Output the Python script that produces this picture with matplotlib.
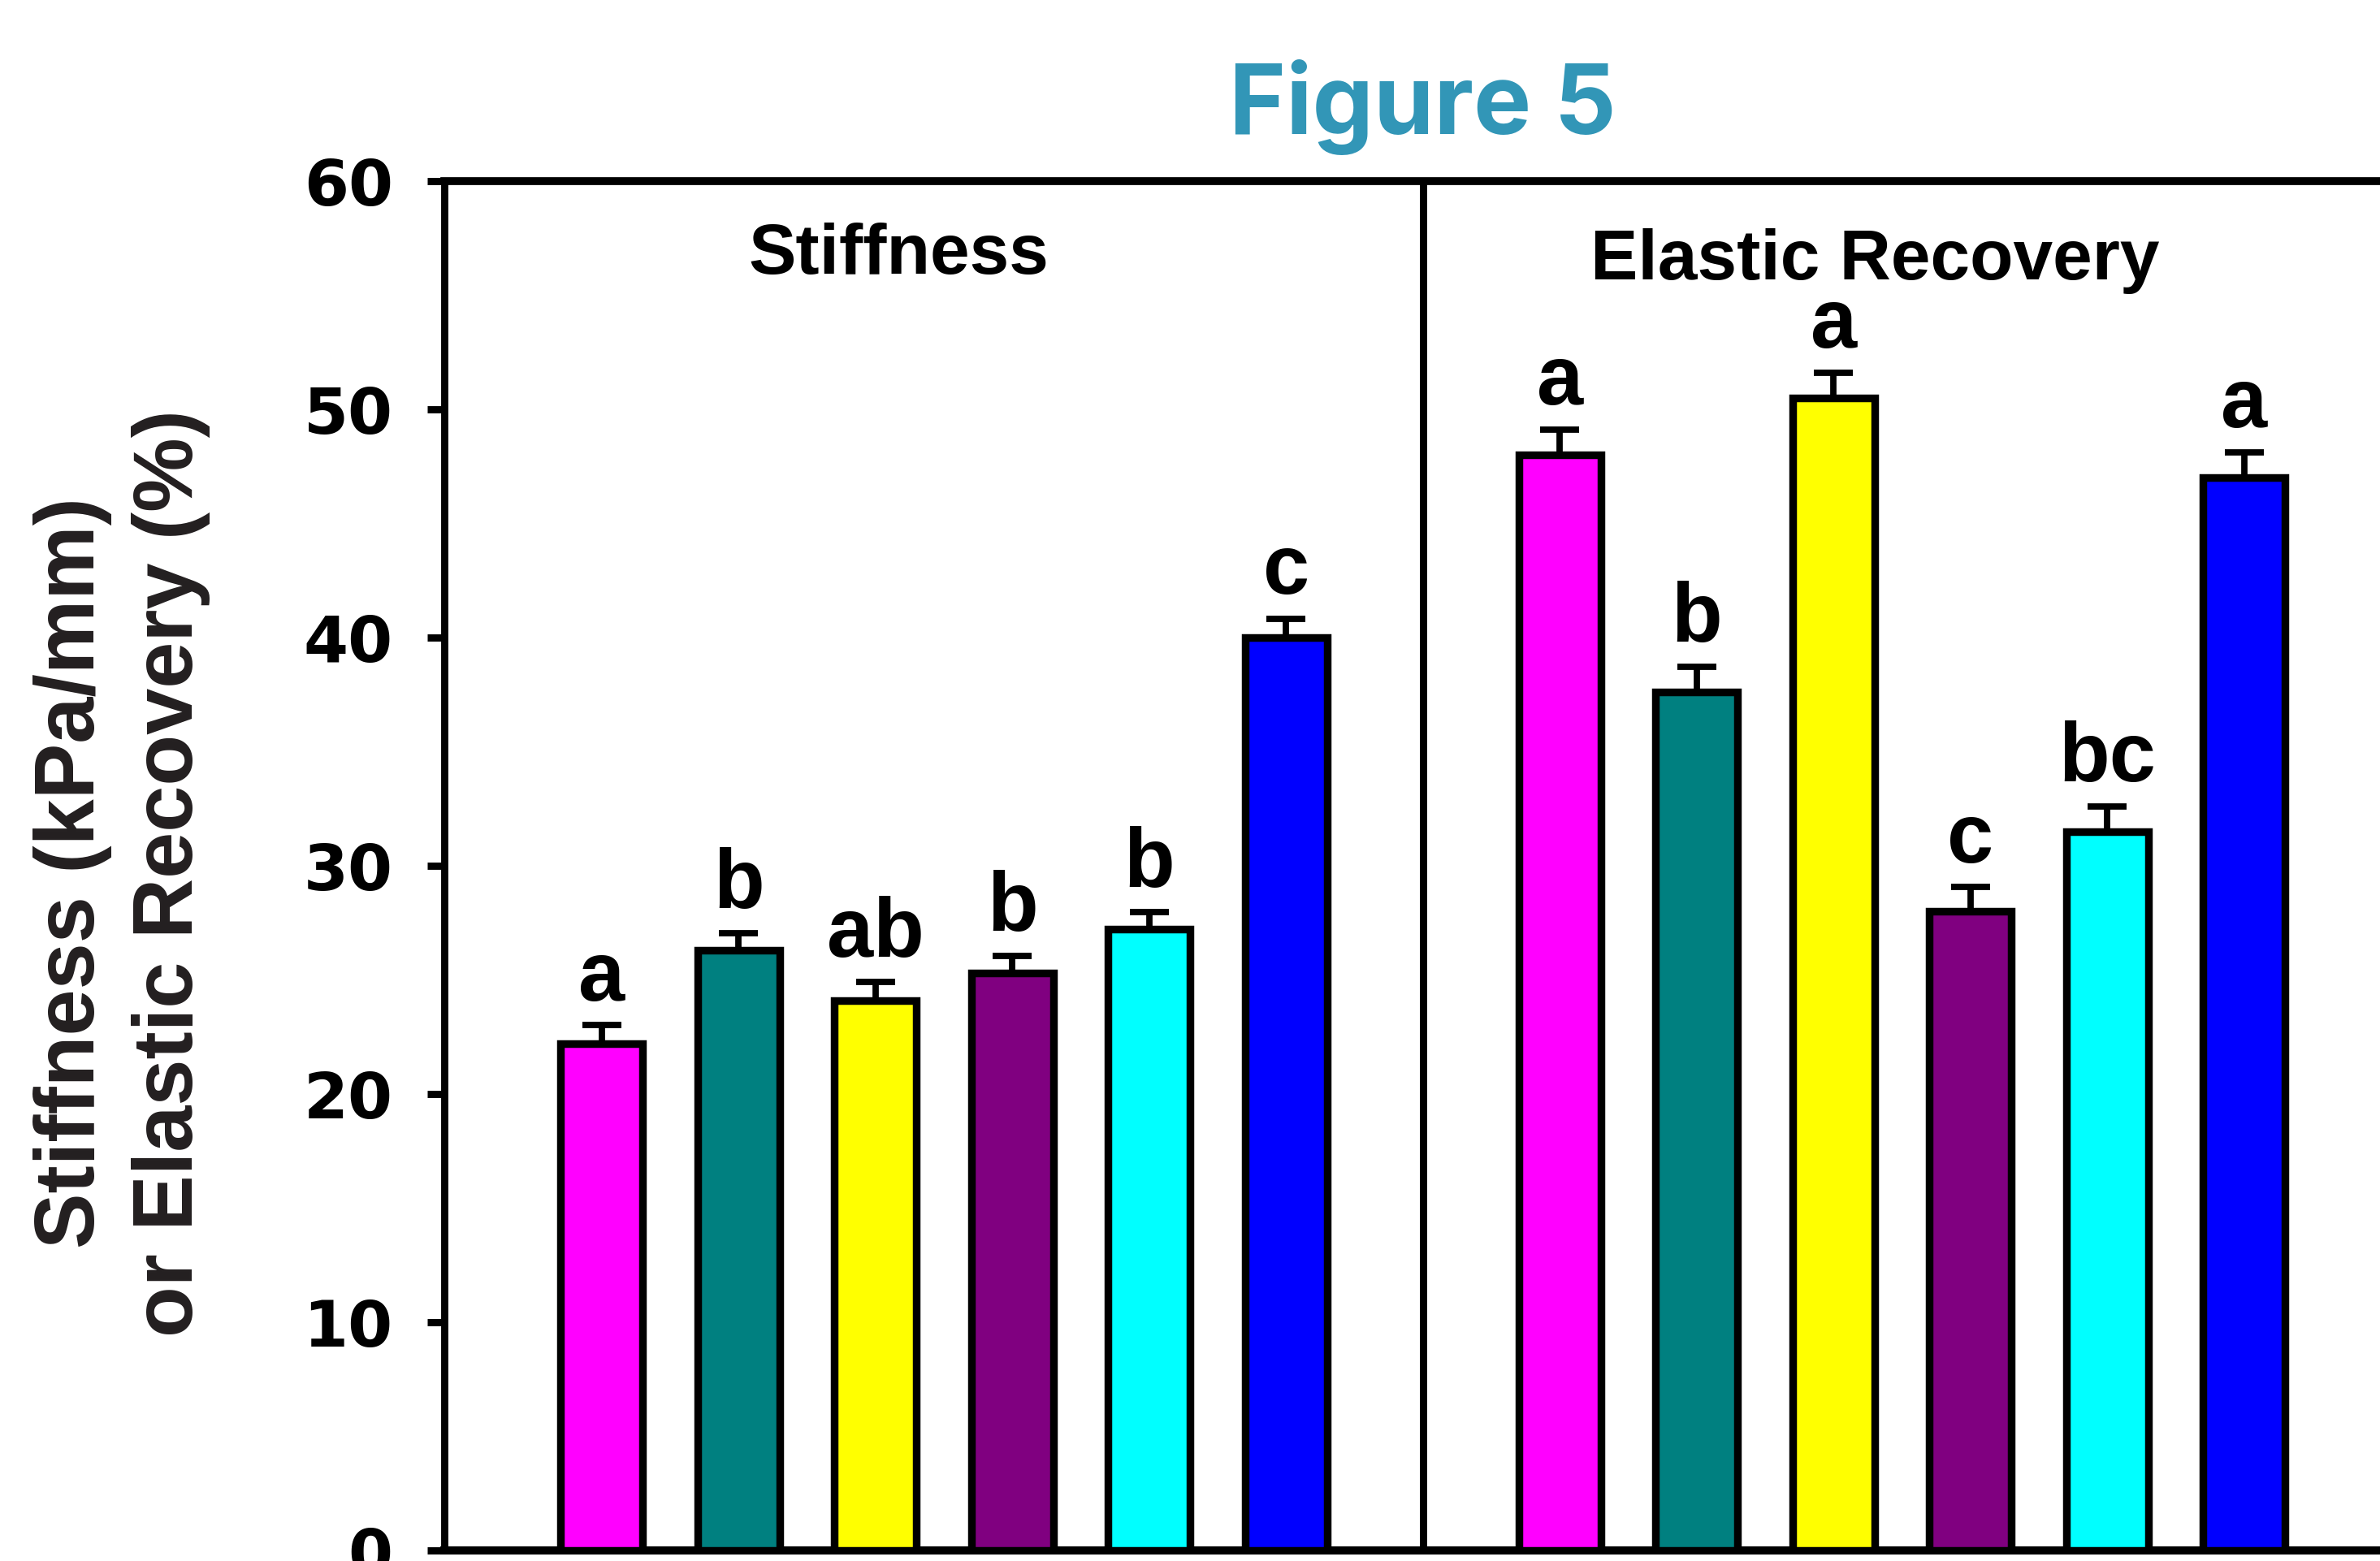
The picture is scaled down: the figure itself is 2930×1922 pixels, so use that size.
import matplotlib
matplotlib.use('Agg')
import matplotlib.pyplot as plt
import numpy as np

# ---- data ----
panels = ['Stiffness', 'Elastic Recovery']
bar_colors = ['#FF00FF', '#008080', '#FFFF00', '#800080', '#00FFFF', '#0000FF']
stiffness = [22.2, 26.3, 24.1, 25.3, 27.2, 40.0]
stiffness_err = [0.8, 0.75, 0.8, 0.75, 0.75, 0.8]
stiffness_letters = ['a', 'b', 'ab', 'b', 'b', 'c']
elastic = [48.0, 37.6, 50.5, 28.0, 31.5, 47.0]
elastic_err = [1.1, 1.1, 1.1, 1.05, 1.1, 1.1]
elastic_letters = ['a', 'b', 'a', 'c', 'bc', 'a']
yticks = [0, 10, 20, 30, 40, 50, 60]
title = 'Figure 5'
ylabel = 'Stiffness (kPa/mm)\nor Elastic Recovery (%)'

W, H, DPI = 2930, 1922, 200
fig = plt.figure(figsize=(W / DPI, H / DPI), dpi=DPI)
fig.patch.set_facecolor('white')

unit = 168.5 / W
x_left = -0.154
x_right = 14.16
ax = fig.add_axes([546.5 / W, (H - 1908.6) / H, (x_right - x_left) * unit, (1908.6 - 223) / H])
ax.set_xlim(x_left, x_right)
ax.set_ylim(0, 60)

pos_s = np.arange(1, 7)
pos_e = np.arange(8, 14)

bar_w = 0.6
edge_lw = 3.4
for pos, vals, errs, letters in [(pos_s, stiffness, stiffness_err, stiffness_letters),
                                 (pos_e, elastic, elastic_err, elastic_letters)]:
    ax.errorbar(pos, vals, yerr=[np.zeros(len(vals)), errs], fmt='none', ecolor='black',
                elinewidth=2.8, capsize=8.6, capthick=2.8, zorder=2)
    ax.bar(pos, vals, width=bar_w, color=bar_colors, edgecolor='black', linewidth=edge_lw, zorder=3)
    for p, v, e, lab in zip(pos, vals, errs, letters):
        ax.text(p, v + e + 1.1, lab, ha='center', va='baseline', fontsize=37,
                fontweight='bold', family=['Liberation Sans', 'DejaVu Sans'], color='black', zorder=4)

ax.axvline(7, color='black', lw=3.2, zorder=1)

# panel labels
ax.text(3.17, 55.95, panels[0], ha='center', va='baseline', fontsize=31.5, fontweight='bold',
        family=['Liberation Sans', 'DejaVu Sans'], color='black')
ax.text(10.30, 55.7, panels[1], ha='center', va='baseline', fontsize=31.5, fontweight='bold',
        family=['Liberation Sans', 'DejaVu Sans'], color='black')

# spines and ticks
ax.spines['right'].set_visible(False)
ax.spines['left'].set_linewidth(3.2)
ax.spines['top'].set_linewidth(3.5)
ax.spines['bottom'].set_linewidth(3.6)
ax.set_yticks(yticks)
ax.set_yticklabels([str(t) for t in yticks])
ax.tick_params(axis='y', direction='out', length=7.6, width=3.2, pad=15, labelsize=28.5)
for lbl in ax.get_yticklabels():
    lbl.set_fontweight('bold')
    lbl.set_family(['DejaVu Sans'])
ax.tick_params(axis='x', bottom=False, labelbottom=False)

# title
fig.text(1751 / W, 1 - 165 / H, title, ha='center', va='baseline', fontsize=43, fontweight='bold',
         family=['Inter', 'Roboto', 'DejaVu Sans'], color='#3296B7')

# y label
fig.text(150 / W, 1 - 1075 / H, ylabel, rotation=90, ha='center', va='center', multialignment='center',
         fontsize=37, fontweight='bold', family=['Liberation Sans', 'DejaVu Sans'], color='#231F20',
         linespacing=1.32)

fig.savefig('out.png', dpi=DPI, facecolor='white')
